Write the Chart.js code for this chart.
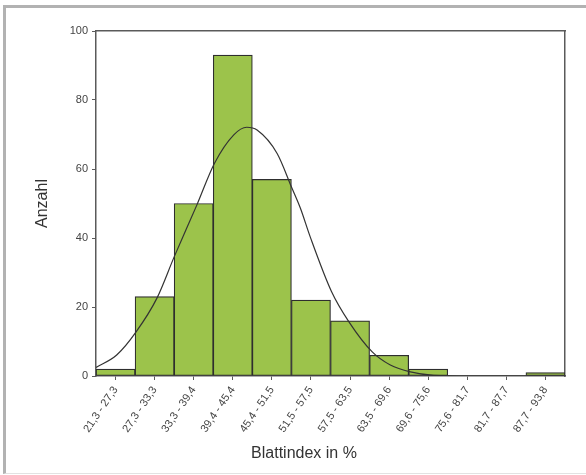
<!DOCTYPE html>
<html lang="de">
<head>
  <meta charset="UTF-8">
  <title>Blattindex Histogramm</title>
  <script src="https://cdn.jsdelivr.net/npm/chart.js"></script>
  <style>
    body {
      margin: 0;
      background: #ffffff;
      overflow: hidden;
    }
    #wrap {
      position: relative;
      width: 586px;
      height: 475px;
    }
    #frame {
      position: absolute;
      left: 3px;
      top: 5px;
      width: 600px;
      height: 465px;
      border-top: 3px solid #b2b2b2;
      border-left: 3px solid #b2b2b2;
      border-bottom: 1px solid #e2e2e2;
      pointer-events: none;
    }
  </style>
</head>
<body>
  <div id="wrap">
    <canvas id="histChart" width="586" height="475"></canvas>
    <div id="frame"></div>
  </div>

  <script>
    // Klassen (Blattindex in %)
    const bins = ['21,3 - 27,3', '27,3 - 33,3', '33,3 - 39,4', '39,4 - 45,4', '45,4 - 51,5', '51,5 - 57,5',
                  '57,5 - 63,5', '63,5 - 69,6', '69,6 - 75,6', '75,6 - 81,7', '81,7 - 87,7', '87,7 - 93,8'];
    const counts = [2, 23, 50, 93, 57, 22, 16, 6, 2, 0, 0, 1];

    // Normalverteilungskurve
    const curveX = [21.3, 24.5, 27.5, 30.7, 33.4, 36.9, 39.6, 42.6, 44.6, 46.2, 49.3, 51.6, 52.9, 54.4, 57.7, 60.4, 64.0, 66.8, 69.9, 73.5, 79.2, 93.8];
    const curveY = [2.5, 6.1, 12.8, 22.5, 34.6, 49.6, 61.6, 69.9, 72.1, 71.3, 64.5, 54.4, 48.6, 40.4, 24.5, 15.7, 7, 3.2, 1.2, 0.2, 0, 0];

    const yTicks = [0, 20, 40, 60, 80, 100];

    const axisColor = '#5a5a5a';
    const textColor = '#444444';
    const fontFam = "'Liberation Sans', Arial, sans-serif";

    const ctx = document.getElementById('histChart').getContext('2d');
    new Chart(ctx, {
      type: 'bar',
      data: {
        labels: bins,
        datasets: [
          {
            type: 'bar',
            data: counts,
            xAxisID: 'x',
            yAxisID: 'y',
            backgroundColor: '#9cc34b',
            borderColor: '#2e2e2e',
            borderWidth: 1.2,
            borderSkipped: false,
            grouped: false,
            categoryPercentage: 1,
            barPercentage: 1,
            order: 1
          },
          {
            type: 'line',
            data: curveX.map((x, i) => ({ x: x, y: curveY[i] })),
            xAxisID: 'x2',
            yAxisID: 'y',
            borderColor: '#333333',
            borderWidth: 1.2,
            pointRadius: 0,
            cubicInterpolationMode: 'monotone',
            fill: false,
            order: 0
          }
        ]
      },
      options: {
        responsive: false,
        animation: false,
        devicePixelRatio: 1,
        layout: { padding: { top: 31, left: 22, right: 0, bottom: 0 } },
        plugins: {
          legend: { display: false },
          tooltip: { enabled: false },
          title: {
            display: true,
            position: 'bottom',
            text: 'Blattindex in %',
            color: '#333333',
            font: { family: fontFam, size: 16, weight: 'normal' },
            padding: { top: 0, bottom: 11.4 }
          }
        },
        scales: {
          x: {
            type: 'category',
            position: 'bottom',
            offset: true,
            grid: { offset: false, drawOnChartArea: false, tickLength: 4, color: axisColor },
            border: { color: axisColor, width: 1.5 },
            ticks: {
              autoSkip: false,
              minRotation: 56,
              maxRotation: 56,
              padding: 4,
              color: textColor,
              font: { family: fontFam, size: 11 }
            },
            afterFit: s => { s.height = 68.4; }
          },
          x2: {
            type: 'linear',
            position: 'top',
            offset: false,
            min: 21.3,
            max: 93.8,
            grid: { display: false, offset: false },
            border: { color: axisColor, width: 1.5 },
            ticks: { display: false },
            afterFit: s => { s.height = 0; }
          },
          y: {
            position: 'left',
            min: 0,
            max: 100,
            afterBuildTicks: s => { s.ticks = yTicks.map(v => ({ value: v })); },
            grid: { drawOnChartArea: false, tickLength: 4, color: axisColor },
            border: { color: axisColor, width: 1.5 },
            ticks: {
              padding: 4,
              color: textColor,
              font: { family: fontFam, size: 11 }
            },
            title: {
              display: true,
              text: 'Anzahl',
              color: '#333333',
              font: { family: fontFam, size: 16 },
              padding: { top: 10.9, bottom: 0 }
            },
            afterFit: s => { s.width = 74; }
          },
          yr: {
            position: 'right',
            min: 0,
            max: 100,
            grid: { display: false },
            border: { color: axisColor, width: 1.5 },
            ticks: { display: false },
            afterFit: s => { s.width = 21; }
          }
        }
      }
    });
  </script>
</body>
</html>
